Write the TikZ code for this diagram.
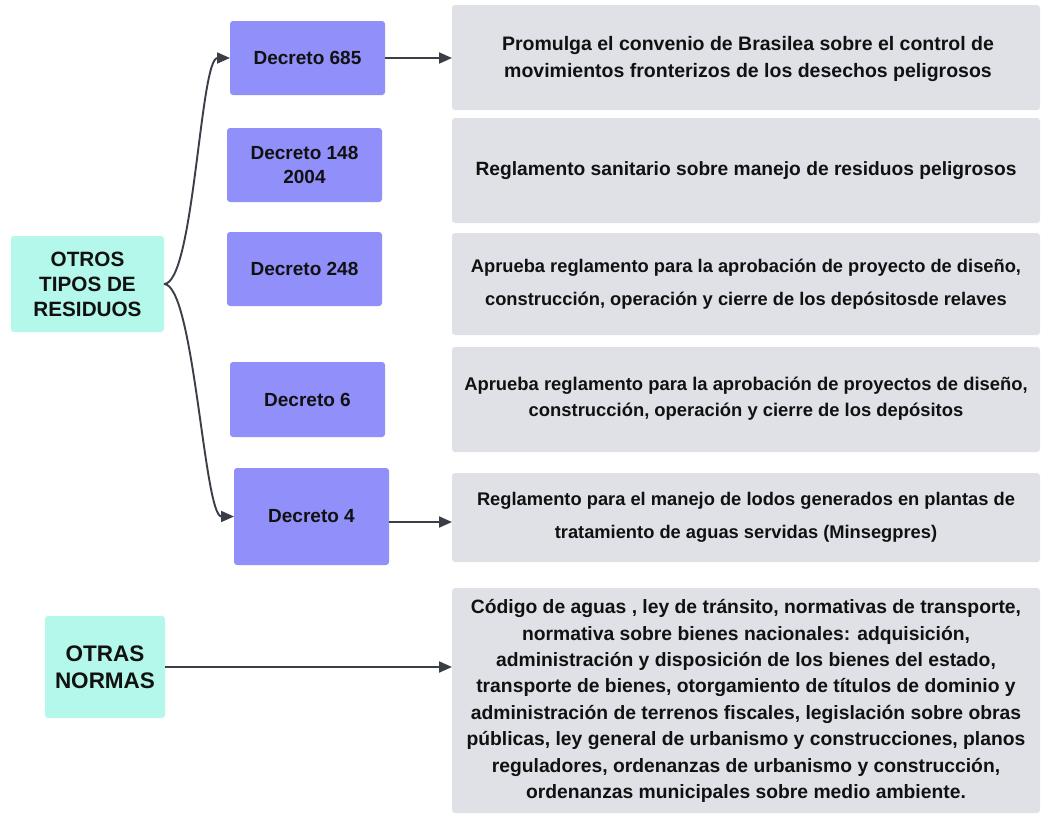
\documentclass[tikz,border=0pt]{standalone}
\usepackage{fontspec}
\setmainfont{Liberation Sans}
\usetikzlibrary{arrows.meta}
\definecolor{purp}{RGB}{145,143,250}
\definecolor{tealb}{RGB}{179,248,234}
\definecolor{grayb}{RGB}{223,225,230}
\definecolor{arr}{RGB}{58,62,70}
\definecolor{txt}{RGB}{17,17,17}
\begin{document}
\begin{tikzpicture}[x=1pt,y=-1pt,
  box/.style={rounded corners=3pt, inner sep=0pt, outer sep=0pt},
  tealbox/.style={box, fill=tealb, text=txt, align=center},
  dec/.style={box, fill=purp, minimum width=155pt, text=txt, align=center, font=\fontsize{19}{24}\selectfont\bfseries},
  gbox/.style={box, fill=grayb, minimum width=588pt},
  gtext/.style={text=txt, align=center, inner sep=0pt},
  conn/.style={draw=arr, line width=1.9pt, -{Triangle[length=13pt,width=11pt]}}
]
\useasboundingbox[fill=white] (0,0) rectangle (1042,815);

% left category boxes
\node[tealbox, minimum width=153pt, minimum height=96pt, font=\fontsize{20.7}{25}\selectfont\bfseries] (res) at (87.5,284) {OTROS\\TIPOS DE\\RESIDUOS};
\node[tealbox, minimum width=120pt, minimum height=102pt, font=\fontsize{22.5}{27}\selectfont\bfseries] (otras) at (105,667) {OTRAS\\NORMAS};

% decrees
\node[dec, minimum height=74pt] (d685) at (307.5,58) {Decreto 685};
\node[dec, minimum height=74pt] (d148) at (304.5,165) {Decreto 148\\2004};
\node[dec, minimum height=74pt] (d248) at (304.5,269) {Decreto 248};
\node[dec, minimum height=75pt] (d6) at (307.5,399.5) {Decreto 6};
\node[dec, minimum height=97pt] (d4) at (311.5,516.5) {Decreto 4};

% description boxes
\node[gbox, minimum height=105pt] (g1) at (746,57.5) {};
\node[gbox, minimum height=105pt] (g2) at (746,170.5) {};
\node[gbox, minimum height=102pt] (g3) at (746,284) {};
\node[gbox, minimum height=105pt] (g4) at (746,399.5) {};
\node[gbox, minimum height=89pt] (g5) at (746,517.5) {};
\node[gbox, minimum height=225pt] (g6) at (746,700.5) {};

\node[gtext, font=\fontsize{19.5}{26.7}\selectfont\bfseries] (t1) at (748,59) {Promulga el convenio de Brasilea sobre el control de\\movimientos fronterizos de los desechos peligrosos};
\node[gtext, font=\fontsize{19.2}{28}\selectfont\bfseries] (t2) at (746,171) {Reglamento sanitario sobre manejo de residuos peligrosos};
\node[gtext, font=\fontsize{18.3}{33}\selectfont\bfseries] (t3) at (746,284) {Aprueba reglamento para la aprobación de proyecto de diseño,\\construcción, operación y cierre de los depósitosde relaves};
\node[gtext, font=\fontsize{18.4}{26}\selectfont\bfseries] (t4) at (746,399) {Aprueba reglamento para la aprobación de proyectos de diseño,\\construcción, operación y cierre de los depósitos};
\node[gtext, font=\fontsize{18.3}{33}\selectfont\bfseries] (t5) at (746,517.5) {Reglamento para el manejo de lodos generados en plantas de\\tratamiento de aguas servidas (Minsegpres)};
\node[gtext, font=\fontsize{19.3}{26.4}\selectfont\bfseries] (t6) at (746,701) {Código de aguas , ley de tránsito, normativas de transporte,\\normativa sobre bienes nacionales: adquisición,\\administración y disposición de los bienes del estado,\\transporte de bienes, otorgamiento de títulos de dominio y\\administración de terrenos fiscales, legislación sobre obras\\públicas, ley general de urbanismo y construcciones, planos\\reguladores, ordenanzas de urbanismo y construcción,\\ordenanzas municipales sobre medio ambiente.};

% connectors
\draw[conn] (res.east) .. controls +(30,0) and +(-30,0) .. (d685.west);
\draw[conn] (res.east) .. controls +(30,0) and +(-30,0) .. (d4.west);
\draw[conn] (d685.east) -- (d685.east -| g1.west);
\draw[conn] ([yshift=-5.5pt]d4.east) -- ([yshift=-5.5pt]d4.east -| g5.west);
\draw[conn] (otras.east) -- (otras.east -| g6.west);
\end{tikzpicture}
\end{document}
